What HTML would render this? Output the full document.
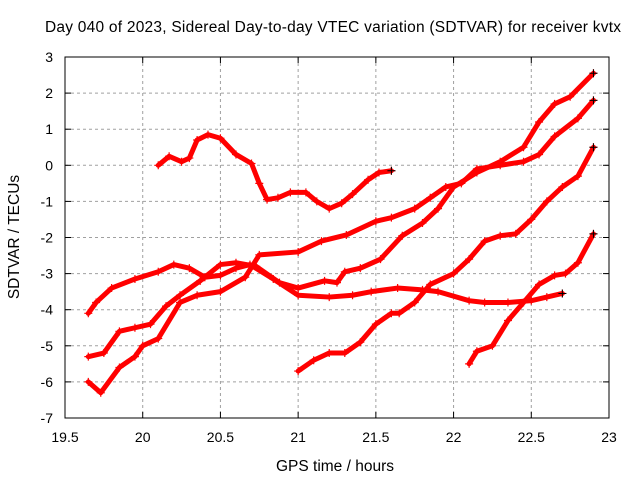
<!DOCTYPE html>
<html><head><meta charset="utf-8"><style>
body{margin:0;background:#fff;font-family:"Liberation Sans",sans-serif;}
svg text{font-family:"Liberation Sans",sans-serif;font-size:14px;fill:#000;}
svg text.big{font-size:15.5px;}
</style></head><body>
<svg id="chart" width="640" height="480">
<text class="big" x="333" y="32" text-anchor="middle" textLength="576">Day 040 of 2023, Sidereal Day-to-day VTEC variation (SDTVAR) for receiver kvtx</text>
<text class="big" x="335" y="471" text-anchor="middle">GPS time / hours</text>
<text class="big" transform="translate(19,237) rotate(-90)" text-anchor="middle">SDTVAR / TECUs</text>
<g id="grid"></g><g id="ticks"></g><g id="series"></g>
<rect x="65" y="57" width="544" height="361" fill="none" stroke="#000" stroke-width="1"/>
</svg>
<script>
const xTicks=[19.5,20,20.5,21,21.5,22,22.5,23];
const xTickLabels=["19.5","20","20.5","21","21.5","22","22.5","23"];
const yTicks=[3,2,1,0,-1,-2,-3,-4,-5,-6,-7];
const yTickLabels=["3","2","1","0","-1","-2","-3","-4","-5","-6","-7"];
const s1x=[20.1,20.17,20.25,20.3,20.35,20.42,20.5,20.6,20.7,20.75,20.8,20.87,20.95,21.05,21.12,21.2,21.28,21.35,21.45,21.52,21.6];
const s1y=[0.0,0.25,0.1,0.2,0.7,0.85,0.75,0.3,0.05,-0.5,-0.95,-0.9,-0.75,-0.75,-1.0,-1.2,-1.05,-0.8,-0.4,-0.2,-0.15];
const s2x=[19.65,19.7,19.8,19.95,20.1,20.2,20.3,20.4,20.5,20.6,20.69,20.84,21.0,21.2,21.35,21.47,21.64,21.8,21.9,22.1,22.2,22.35,22.5,22.6,22.7];
const s2y=[-4.1,-3.8,-3.4,-3.15,-2.95,-2.75,-2.85,-3.1,-3.05,-2.85,-2.75,-3.15,-3.6,-3.65,-3.6,-3.5,-3.4,-3.45,-3.5,-3.75,-3.8,-3.8,-3.75,-3.65,-3.55];
const s3x=[19.65,19.75,19.85,19.95,20.05,20.15,20.24,20.37,20.5,20.6,20.73,20.88,21.0,21.17,21.25,21.3,21.4,21.53,21.67,21.8,21.9,22.0,22.15,22.3,22.45,22.55,22.65,22.75,22.9];
const s3y=[-5.3,-5.2,-4.6,-4.5,-4.4,-3.9,-3.6,-3.2,-2.75,-2.7,-2.8,-3.25,-3.4,-3.2,-3.25,-2.95,-2.85,-2.6,-1.95,-1.6,-1.2,-0.6,-0.2,0.1,0.5,1.2,1.7,1.9,2.55];
const s4x=[19.65,19.73,19.85,19.95,20.0,20.1,20.24,20.35,20.5,20.66,20.75,21.0,21.15,21.31,21.5,21.6,21.75,21.85,21.95,22.05,22.15,22.3,22.45,22.55,22.65,22.8,22.9];
const s4y=[-6.0,-6.3,-5.6,-5.3,-5.0,-4.8,-3.8,-3.6,-3.5,-3.1,-2.48,-2.4,-2.1,-1.93,-1.55,-1.45,-1.2,-0.9,-0.6,-0.5,-0.1,0.0,0.1,0.3,0.8,1.3,1.8];
const s5x=[21.0,21.1,21.2,21.3,21.4,21.5,21.6,21.65,21.75,21.85,22.0,22.1,22.2,22.3,22.4,22.5,22.6,22.7,22.8,22.9];
const s5y=[-5.7,-5.4,-5.2,-5.2,-4.9,-4.4,-4.1,-4.1,-3.8,-3.3,-3.0,-2.6,-2.1,-1.95,-1.9,-1.5,-1.0,-0.6,-0.3,0.5];
const s6x=[22.1,22.15,22.25,22.35,22.45,22.55,22.65,22.72,22.8,22.9];
const s6y=[-5.5,-5.15,-5.0,-4.3,-3.8,-3.3,-3.05,-3.0,-2.7,-1.9];
const seriesX=[s1x,s2x,s3x,s4x,s5x,s6x];
const seriesY=[s1y,s2y,s3y,s4y,s5y,s6y];

const NS="http://www.w3.org/2000/svg";
const X0=65,X1=609,Y0=57,Y1=418;
function xs(v){return X0+(v-19.5)/(23-19.5)*(X1-X0);}
function ys(v){return Y0+(3-v)/(10)*(Y1-Y0);}
function mk(t,a,p){const e=document.createElementNS(NS,t);for(const k in a)e.setAttribute(k,a[k]);p.appendChild(e);return e;}
const grid=document.getElementById('grid'),ticks=document.getElementById('ticks'),ser=document.getElementById('series');
xTicks.forEach((v,i)=>{
  const x=xs(v);
  if(i>0&&i<xTicks.length-1){
    const g=mk('line',{x1:x,x2:x,y1:Y0,y2:Y1,stroke:'#a0a0a0','stroke-dasharray':'3,3'},grid);
    
    
  }
  mk('line',{x1:x,x2:x,y1:Y1,y2:Y1-6,stroke:'#000'},ticks);
  mk('line',{x1:x,x2:x,y1:Y0,y2:Y0+6,stroke:'#000'},ticks);
  const t=mk('text',{x:x,y:442,'text-anchor':'middle'},ticks);
  t.textContent=xTickLabels[i];
  
  
});
yTicks.forEach((v,i)=>{
  const y=ys(v);
  if(i>0&&i<yTicks.length-1){
    const g=mk('line',{x1:X0,x2:X1,y1:y,y2:y,stroke:'#a0a0a0','stroke-dasharray':'3,3'},grid);
    
    
  }
  mk('line',{x1:X0,x2:X0+6,y1:y,y2:y,stroke:'#000'},ticks);
  mk('line',{x1:X1,x2:X1-6,y1:y,y2:y,stroke:'#000'},ticks);
  const t=mk('text',{x:53,y:y+5,'text-anchor':'end'},ticks);
  t.textContent=yTickLabels[i];
  
  
});
seriesX.forEach((sx,si)=>{
  const sy=seriesY[si];
  const pts=sx.map((v,i)=>xs(v)+','+ys(sy[i])).join(' ');
  const pl=mk('polyline',{points:pts,fill:'none',stroke:'#ff0000','stroke-width':5,'stroke-linejoin':'round','stroke-linecap':'round'},ser);
  
  
  sx.forEach((v,i)=>{
    const cx=xs(v),cy=ys(sy[i]);
    const m=mk('path',{d:`M${cx-4},${cy}H${cx+4}M${cx},${cy-4}V${cy+4}`,stroke:'#ff0000','stroke-width':1.2},ser);
    
    
  });
  const lx=xs(sx[sx.length-1]),ly=ys(sy[sy.length-1]);
  mk('path',{d:`M${lx-4},${ly}H${lx+4}M${lx},${ly-4}V${ly+4}`,stroke:'#000','stroke-width':1},ser);
});
</script>
</body></html>
